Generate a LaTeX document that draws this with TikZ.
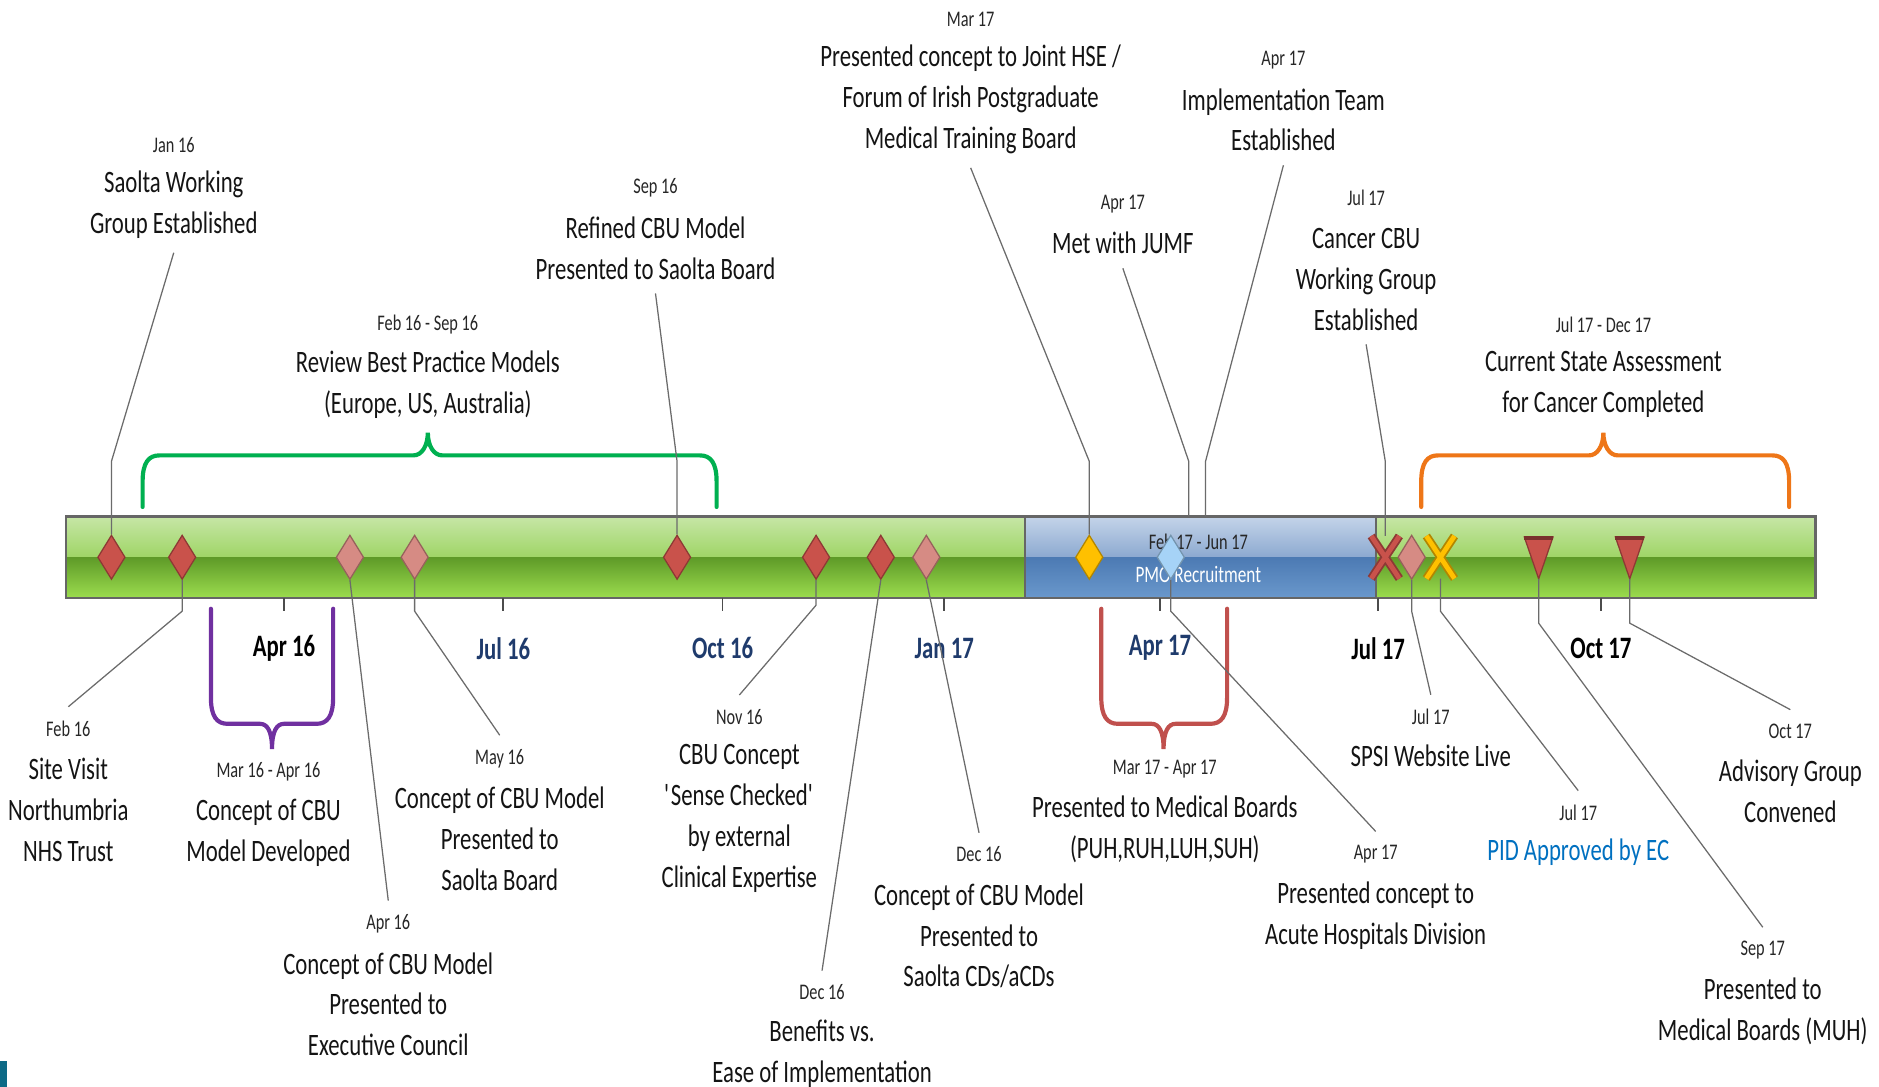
\documentclass[tikz,border=0pt]{standalone}
\usepackage{fontspec}
\setmainfont{Carlito}[FakeStretch=0.73]
\usetikzlibrary{shapes.geometric,shapes.misc,positioning}
\definecolor{gTopA}{HTML}{C6E6A6}
\definecolor{gTopB}{HTML}{9FD566}
\definecolor{gBotA}{HTML}{5E9A28}
\definecolor{gBotB}{HTML}{9CDD4E}
\definecolor{bTopA}{HTML}{C4D4E9}
\definecolor{bTopB}{HTML}{8CA9D0}
\definecolor{bBotA}{HTML}{4C7AB3}
\definecolor{bBotB}{HTML}{6A98CC}
\definecolor{mkred}{HTML}{C9524B}
\definecolor{mkpink}{HTML}{D68B84}
\definecolor{mkgold}{HTML}{FFC000}
\definecolor{mksky}{HTML}{A6D3F7}
\definecolor{axblue}{HTML}{1F3B6C}
\definecolor{brgreen}{HTML}{00B050}
\definecolor{brpurple}{HTML}{7030A0}
\definecolor{brred}{HTML}{C0504D}
\definecolor{brorange}{HTML}{EE7618}
\definecolor{pidblue}{HTML}{0070C0}
\definecolor{cornerteal}{HTML}{0D6A86}
\tikzset{
  txt/.style={align=center, font=\fontsize{7.4}{9.7}\selectfont, text=black!92, inner xsep=0pt, inner ysep=1.1mm, yshift=-.2mm},
  dt/.style={font=\fontsize{5.3}{6}\selectfont, text=black!85, inner xsep=0pt, inner ysep=1.1mm},
  ax/.style={font=\fontsize{7.4}{9}\selectfont\bfseries, inner sep=0pt},
  lead/.style={draw=black!58, line width=.3pt},
  dia/.style={diamond, draw=#1!70!black, fill=#1, minimum width=2.3mm, minimum height=3.7mm, inner sep=0pt, line width=.3pt},
  xm/.style={cross out, draw=#1!70!black, double=#1, double distance=.4mm, line width=.15mm, minimum width=2.2mm, minimum height=3.4mm, inner sep=0pt},
  brace/.style={draw=#1, line width=.35mm, line cap=round}
}
\begin{document}
\begin{tikzpicture}[x=.1mm,y=-.1mm]
\useasboundingbox (0,0) rectangle (1568,907);
\fill[cornerteal] (0,885) rectangle (6,907);
\foreach \l/\r/\t/\c in {119/598/357/brgreen,1186/1493/1338/brorange}
\draw[brace=\c] (\l,423) -- (\l,402) .. controls (\l,386) and ({\l+5},380) .. ({\l+14},380) -- ({\t-12},380) .. controls ({\t-5},380) and (\t,372) .. (\t,361) .. controls (\t,372) and ({\t+5},380) .. ({\t+12},380) -- ({\r-14},380) .. controls ({\r-5},380) and (\r,386) .. (\r,402) -- (\r,423);
\foreach \l/\r/\t/\c in {176/278/227/brpurple,919/1024/971/brred}
\draw[brace=\c] (\l,508) -- (\l,582) .. controls (\l,598) and ({\l+5},604) .. ({\l+14},604) -- ({\t-10},604) .. controls ({\t-4},604) and (\t,610) .. (\t,625) .. controls (\t,610) and ({\t+4},604) .. ({\t+10},604) -- ({\r-14},604) .. controls ({\r-5},604) and (\r,598) .. (\r,582) -- (\r,508);
\foreach \a/\b/\p in {55/855/g,855/1148/b,1148/1515/g} {
  \shade[top color=\p TopA, bottom color=\p TopB] (\a,431) rectangle (\b,465);
  \shade[top color=\p BotA, bottom color=\p BotB] (\a,465) rectangle (\b,499);
}
\draw[black!60, line width=.5pt] (55,431) rectangle (1515,499) (855,431) -- (855,499) (1148,431) -- (1148,499);
\foreach \x/\t/\c in {237/Apr 16/black,420/Jul 16/axblue,603/Oct 16/axblue,788/Jan 17/axblue,968/Apr 17/axblue,1150/Jul 17/black,1336/Oct 17/black} {
  \draw[black!70] (\x,499) -- (\x,510);
  \node[ax, text=\c] (ax\x) at (\x,541) {\t};
}
\node[dt] (pmod) at (1000,452) {Feb 17 - Jun 17};
\node[font=\fontsize{5.6}{6}\selectfont, text=white, inner sep=0pt] (pmo) at (1000,479) {PMO Recruitment};
\foreach \n/\x/\c in {m1/93/mkred,m2/152/mkred,m3/292/mkpink,m4/346/mkpink,m5/565/mkred,m6/681/mkred,m7/735/mkred,m8/773/mkpink,m9/909/mkgold,m10/977/mksky,m11/1178/mkpink}
\node[dia=\c] (\n) at (\x,465) {};
\node[xm=mkred] (x1) at (1156,465) {};
\node[xm=mkgold] (x2) at (1202,465) {};
\foreach \n/\x in {t1/1284,t2/1360} {
  \coordinate (\n) at (\x,483);
  \draw[mkred!70!black, fill=mkred, line width=.3pt] (\n) -- ++(-12,-35) -- ++(24,0) -- cycle;
  \draw[mkred!60!black, line width=.8pt] ({\x-12},449) -- ({\x+12},449);
}
\coordinate (jumfend) at (992,431);
\coordinate (itend) at (1006,431);
\node[dt] (wgd) at (145,121) {Jan 16};
\node[txt] (wg) at (145,169) {Saolta Working\\Group Established};
\node[dt] (svd) at (57,608) {Feb 16};
\node[txt] (sv) at (57,674) {Site Visit\\Northumbria\\NHS Trust};
\node[dt] (cmd) at (224,644) {Mar 16 - Apr 16};
\node[txt] (cm) at (224,693) {Concept of CBU\\Model Developed};
\node[dt] (ecd) at (324,771) {Apr 16};
\node[txt] (ec) at (324,836) {Concept of CBU Model\\Presented to\\Executive Council};
\node[dt] (sbd) at (417,633) {May 16};
\node[txt] (sb) at (417,698) {Concept of CBU Model\\Presented to\\Saolta Board};
\node[dt] (bpd) at (357,271) {Feb 16 - Sep 16};
\node[txt] (bp) at (357,319) {Review Best Practice Models\\(Europe, US, Australia)};
\node[dt] (rfd) at (547,157) {Sep 16};
\node[txt] (rf) at (547,205) {Refined CBU Model\\Presented to Saolta Board};
\node[dt] (nvd) at (617,598) {Nov 16};
\node[txt] (nv) at (617,681) {CBU Concept\\\textquotesingle Sense Checked\textquotesingle\\by external\\Clinical Expertise};
\node[dt] (bed) at (686,828) {Dec 16};
\node[txt] (be) at (686,877) {Benefits vs.\\Ease of Implementation};
\node[dt] (cdsd) at (817,713) {Dec 16};
\node[txt] (cds) at (817,779) {Concept of CBU Model\\Presented to\\Saolta CDs/aCDs};
\node[dt] (hsed) at (810,16) {Mar 17};
\node[txt] (hse) at (810,81) {Presented concept to Joint HSE /\\Forum of Irish Postgraduate\\Medical Training Board};
\node[dt] (jumfd) at (937,170) {Apr 17};
\node[txt] (jumf) at (937,201) {Met with JUMF};
\node[dt] (itd) at (1071,50) {Apr 17};
\node[txt] (it) at (1071,98) {Implementation Team\\Established};
\node[dt] (ahdd) at (1148,713) {Apr 17};
\node[txt] (ahd) at (1148,762) {Presented concept to\\Acute Hospitals Division};
\node[dt] (mbd) at (972,642) {Mar 17 - Apr 17};
\node[txt] (mb) at (972,690) {Presented to Medical Boards\\(PUH,RUH,LUH,SUH)};
\node[dt] (ccd) at (1140,165) {Jul 17};
\node[txt] (cc) at (1140,231) {Cancer CBU\\Working Group\\Established};
\node[dt] (spd) at (1194,598) {Jul 17};
\node[txt] (sp) at (1194,629) {SPSI Website Live};
\node[dt] (pidd) at (1317,678) {Jul 17};
\node[txt, text=pidblue] (pid) at (1317,709) {PID Approved by EC};
\node[dt] (csd) at (1338,271) {Jul 17 - Dec 17};
\node[txt] (cs) at (1338,319) {Current State Assessment\\for Cancer Completed};
\node[dt] (mud) at (1471,793) {Sep 17};
\node[txt] (mu) at (1471,842) {Presented to\\Medical Boards (MUH)};
\node[dt] (agd) at (1494,610) {Oct 17};
\node[txt] (ag) at (1494,658) {Advisory Group\\Convened};
\draw[lead] (wg.south) -- (93,385) -- (m1.north);
\draw[lead] (m2.south) -- (152,510) -- (svd.north);
\draw[lead] (m3.south) -- (ecd.north);
\draw[lead] (m4.south) -- (346,510) -- (sbd.north);
\draw[lead] (rf.south) -- (565,385) -- (m5.north);
\draw[lead] (m6.south) -- (681,505) -- (nvd.north);
\draw[lead] (m7.south) -- (bed.north);
\draw[lead] (m8.south) -- (cdsd.north);
\draw[lead] (hse.south) -- (909,385) -- (m9.north);
\draw[lead] (jumf.south) -- (992,385) -- (jumfend);
\draw[lead] (it.south) -- (1006,385) -- (itend);
\draw[lead] (m10.south) -- (977,510) -- (ahdd.north);
\draw[lead] (cc.south) -- (1156,385) -- (x1.north);
\draw[lead] (m11.south) -- (1178,510) -- (spd.north);
\draw[lead] (x2.south) -- (1202,510) -- (pidd.north);
\draw[lead] (t1) -- (1284,520) -- (mud.north);
\draw[lead] (t2) -- (1360,520) -- (agd.north);
\end{tikzpicture}
\end{document}
